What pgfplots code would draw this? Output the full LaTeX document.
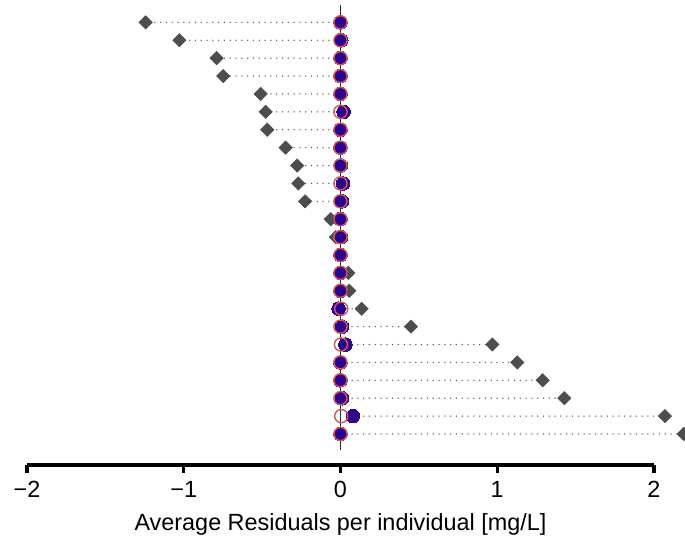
\documentclass[border=0pt]{standalone}
\usepackage{pgfplots}
\pgfplotsset{compat=1.18}
\usepackage{pgfplotstable}
\usepackage{fontspec}
\setmainfont{Liberation Sans}
\definecolor{dia}{RGB}{77,77,77}
\definecolor{dotc}{RGB}{90,90,90}
\definecolor{pblue}{RGB}{46,0,140}
\definecolor{pred}{RGB}{205,92,92}

% y = row (24 at top), diam = diamond, blue = filled circle, red = open circle
\pgfplotstableread{
y  diam    blue    red
24 -1.243  0.000   0.000
23 -1.028  0.005   0.000
22 -0.790  0.000   0.000
21 -0.748  0.000   0.000
20 -0.509  0.000   0.000
19 -0.477  0.020   0.000
18 -0.467  0.000   0.000
17 -0.350  0.000   0.000
16 -0.276  0.003   0.000
15 -0.269  0.017   0.000
14 -0.226  0.010   0.000
13 -0.062  0.000   0.000
12 -0.030  0.004   0.000
11  0.000  0.000   0.000
10  0.050  0.000   0.000
9   0.056  0.000   0.000
8   0.135 -0.012   0.005
7   0.450  0.010   0.000
6   0.969  0.032   0.003
5   1.128  0.000   0.000
4   1.290  0.000   0.000
3   1.428  0.010   0.000
2   2.070  0.079   0.005
1   2.190  0.000   0.000
}\resid

\begin{document}
\fontsize{11.7}{14}\selectfont
\begin{tikzpicture}
\begin{axis}[
    at={(0pt,45pt)}, anchor=south west,
    scale only axis, width=342.5pt, height=222.5pt,
    xmin=-2.172, xmax=2.198,
    ymin=0.106, ymax=24.97,
    hide axis, clip=false,
]
\addplot[black!85, line width=0.9pt] coordinates {(0,0.106) (0,24.97)};
% dotted segments from zero to the diamond
\addplot[xcomb, dotc, line width=0.75pt, line cap=round,
    dash pattern=on 0pt off 2.9pt, no marks] table[x=diam,y=y]{\resid};
\addplot[only marks, mark=square*, mark size=2.3pt,
    mark options={rotate=45, fill=dia, draw=dia}] table[x=diam,y=y]{\resid};
\addplot[only marks, mark=*, mark size=3.4pt,
    mark options={fill=pblue, draw=pblue, line width=0pt}] table[x=blue,y=y]{\resid};
\addplot[only marks, mark=o, mark size=3.3pt,
    mark options={draw=pred, line width=0.7pt}] table[x=red,y=y]{\resid};
\end{axis}
\begin{axis}[
    at={(13.5pt,37.5pt)}, anchor=south west,
    scale only axis, width=313.5pt, height=10pt,
    xmin=-2, xmax=2, ymin=0, ymax=1,
    axis x line*=bottom, axis y line=none,
    xtick={-2,-1,0,1,2}, xticklabels={−2,−1,0,1,2},
    tick align=outside, major tick length=4pt,
    x axis line style={line width=1.6pt, -},
    xtick style={line width=1.6pt, black},
    xlabel={Average Residuals per individual [mg/L]},
]
\end{axis}
\pgfresetboundingbox
\path (0,0) rectangle (342.5pt,270pt);
\end{tikzpicture}
\end{document}
